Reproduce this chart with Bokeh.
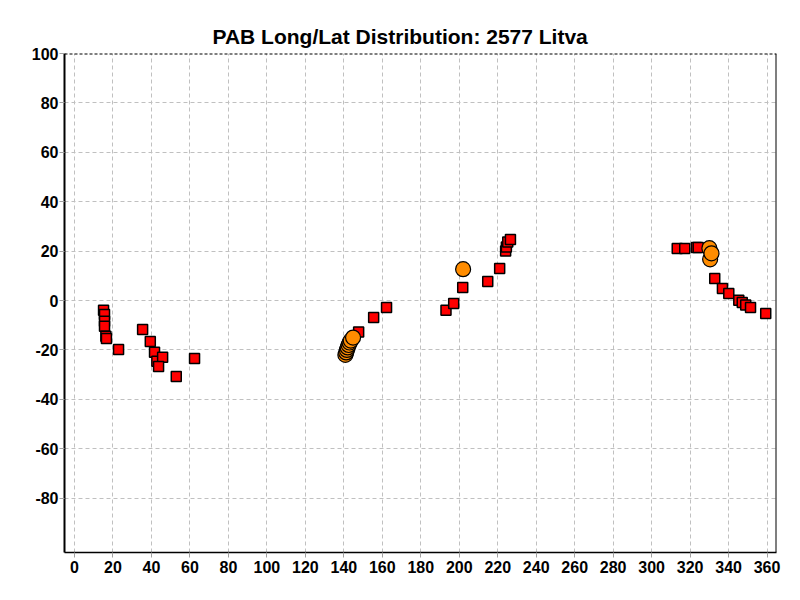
from bokeh.plotting import figure
from bokeh.models import Range1d, FixedTicker, Span
from bokeh.embed import file_html
from bokeh.resources import INLINE

title_text = "PAB Long/Lat Distribution: 2577 Litva"

sq_lon = [15.1, 15.6, 15.6, 15.6, 16.3, 16.6, 22.9, 35.4, 39.4, 41.6, 42.8, 45.8, 43.7, 52.9, 62.4,
          147.7, 155.5, 162.2,
          193.1, 197.1, 201.8, 214.8, 221.0, 224.1, 224.5, 225.2, 226.6,
          313.3, 317.2, 323.3, 324.2, 332.8, 336.8, 340.1, 345.3, 347.1, 348.9, 351.4, 359.3]
sq_lat = [-3.9, -5.7, -8.4, -10.4, -14.5, -15.4, -19.8, -11.7, -16.6, -20.9, -24.6, -23.0, -26.7, -30.8, -23.5,
          -12.7, -6.9, -2.8,
          -3.9, -1.2, 5.3, 7.7, 13.0, 20.0, 21.7, 23.7, 24.7,
          21.1, 21.1, 21.5, 21.5, 8.9, 4.9, 2.8, 0.1, -0.8, -1.8, -2.8, -5.3]

circ_lon = [140.8, 141.2, 141.6, 142.0, 142.5, 143.0, 143.6, 144.8,
            202.0,
            330.0, 330.4, 331.1]
circ_lat = [-22.0, -21.0, -20.0, -19.0, -18.0, -17.0, -16.2, -15.0,
            12.7,
            21.2, 16.7, 19.1]

x_ticks = list(range(0, 361, 20))
y_ticks = list(range(-80, 101, 20))

FONT = "Liberation Sans"

p = figure(width=784, height=584, output_backend="svg", toolbar_location=None,
           x_range=Range1d(-5.2, 364.9), y_range=Range1d(-102, 100),
           min_border_left=64, min_border_right=8, min_border_top=53, min_border_bottom=32,
           title=title_text)

p.title.text_font = FONT
p.title.text_font_size = "21px"
p.title.text_font_style = "bold"
p.title.align = "left"
p.title.offset = 148
p.title.standoff = 12
p.title.text_color = "black"

p.outline_line_color = None
p.background_fill_color = "white"
p.border_fill_color = "white"

for ax, ticks in ((p.xaxis[0], x_ticks), (p.yaxis[0], y_ticks)):
    ax.ticker = FixedTicker(ticks=ticks)
    ax.major_label_overrides = {t: str(t) for t in ticks}
    ax.major_label_text_font = FONT
    ax.major_label_text_font_size = "16px"
    ax.major_label_text_font_style = "bold"
    ax.major_label_text_color = "black"
    ax.axis_line_color = "black"
    ax.major_tick_line_color = "#a0a0a0"
    ax.major_tick_out = 5
    ax.major_tick_in = 0
    ax.minor_tick_line_color = None

p.yaxis[0].axis_line_width = 2
p.xaxis[0].axis_line_width = 1.5
p.yaxis[0].major_label_standoff = 1
p.xaxis[0].major_label_standoff = 3

for g in (p.xgrid[0], p.ygrid[0]):
    g.grid_line_color = "#c0c0c0"
    g.grid_line_dash = "4 3"
    g.grid_line_width = 1

p.add_layout(Span(location=100, dimension="width", line_color="black", line_dash="3 2", line_width=2))
p.add_layout(Span(location=364.9, dimension="height", line_color="black", line_width=2))

p.scatter(sq_lon, sq_lat, marker="square", size=10, fill_color="#ff0000",
          line_color="black", line_width=1.5)
p.scatter(circ_lon, circ_lat, marker="circle", size=15, fill_color="#ff8c00",
          line_color="black", line_width=1.2)

open("out.html", "w").write(file_html(p, INLINE))
